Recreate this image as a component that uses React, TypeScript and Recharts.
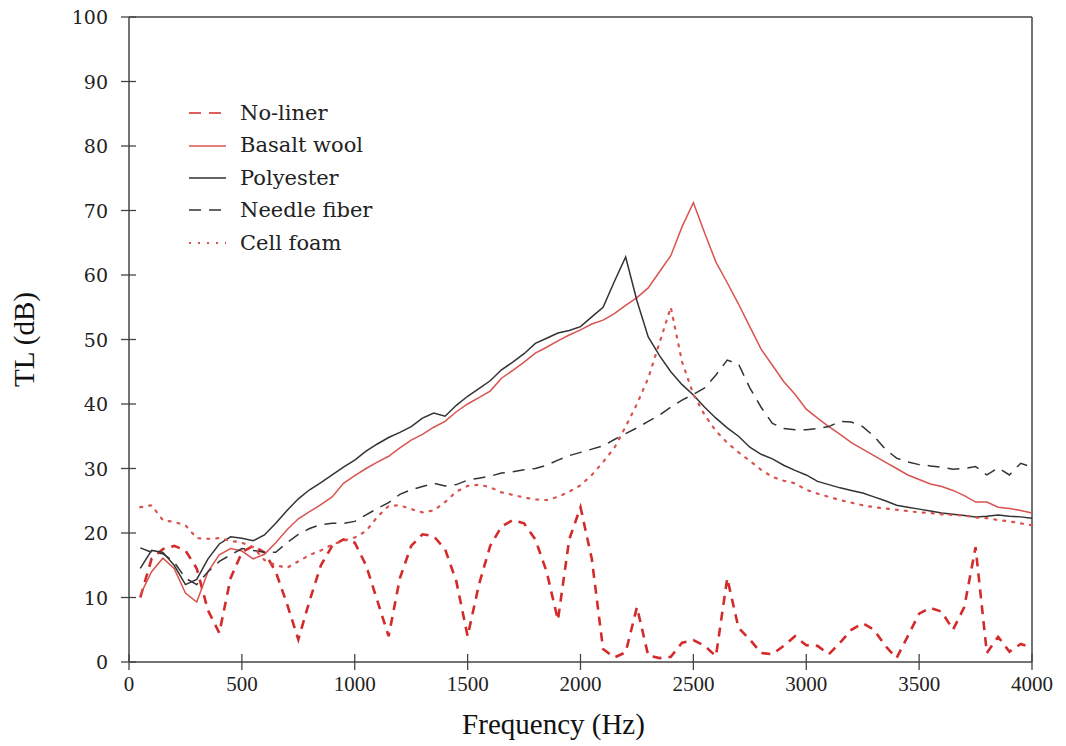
import React from 'react'
import { LineChart, Line, XAxis, YAxis, ReferenceLine, Label } from 'recharts'

const freqs = Array.from({ length: 80 }, (_, i) => (i + 1) * 50)

const noLiner = [
  10, 16, 17.5, 18, 17.3, 14.5, 8, 4.5, 13, 17,
  18, 17, 14, 9, 3.5, 9.5, 15, 18, 19, 18.5,
  15, 9.5, 4, 13, 18, 19.8, 19.5, 17.5, 12.5, 4,
  12, 18, 21, 22, 21.5, 19, 14, 6.5, 19, 24,
  16, 2, 0.7, 1.5, 8.5, 1, 0.6, 0.8, 3, 3.4,
  2.5, 0.9, 13, 5.3, 3.5, 1.4, 1.2, 2.5, 4, 2.6,
  2.5, 1.2, 3, 5, 6, 5, 2.5, 0.6, 4, 7.5,
  8.4, 7.8, 5, 8.5, 17.8, 1.4, 3.9, 1.6, 2.8, 2.2,
]

const basaltWool = [
  10.4, 14, 16.1, 14.5, 10.7, 9.3, 14, 16.6, 17.6, 17.2,
  16, 16.7, 18.5, 20.5, 22.2, 23.3, 24.4, 25.6, 27.7, 28.9,
  30, 31, 31.9, 33.2, 34.4, 35.3, 36.4, 37.3, 38.8, 40,
  41, 42, 44, 45.2, 46.5, 47.9, 48.8, 49.8, 50.7, 51.5,
  52.4, 53, 54, 55.3, 56.5, 58, 60.5, 63, 67.5, 71.2,
  66.5, 62, 58.8, 55.5, 52, 48.5, 46, 43.5, 41.5, 39.2,
  37.8, 36.5, 35.3, 34, 33, 32, 31, 30, 29, 28.3,
  27.6, 27.2, 26.6, 25.8, 24.8, 24.8, 24, 23.8, 23.5, 23.1,
]

const polyester = [
  14.5, 17.3, 17, 15, 12, 12.8, 16, 18.3, 19.4, 19.2,
  18.8, 19.7, 21.5, 23.5, 25.3, 26.7, 27.8, 29, 30.2, 31.3,
  32.7, 33.8, 34.8, 35.6, 36.5, 37.8, 38.6, 38.1, 39.8, 41.2,
  42.4, 43.6, 45.3, 46.5, 47.8, 49.4, 50.2, 51, 51.4, 52,
  53.5, 55, 59, 62.8, 56, 50.4, 47.5, 45, 43, 41.4,
  39.5, 37.8, 36.3, 35, 33.3, 32.2, 31.5, 30.5, 29.7, 29,
  28, 27.5, 27, 26.6, 26.2, 25.6, 25, 24.3, 24, 23.7,
  23.4, 23.1, 22.9, 22.7, 22.5, 22.6, 22.8, 22.6, 22.5, 22.3,
]

const needleFiber = [
  17.7, 17, 16.8, 15.5, 13, 12, 14, 15.6, 16.6, 17.6,
  17.3, 17, 17, 18.5, 19.8, 20.7, 21.3, 21.5, 21.5, 21.8,
  22.8, 23.8, 24.7, 26, 26.7, 27.2, 27.7, 27.3, 27.5, 28.2,
  28.5, 28.8, 29.3, 29.5, 29.8, 30, 30.5, 31.3, 32, 32.5,
  33, 33.5, 34.5, 35.4, 36.3, 37.3, 38.3, 39.5, 40.6, 41.5,
  42.5, 44.5, 46.8, 46.2, 42.5, 39.5, 37, 36.2, 36, 36,
  36.2, 36.5, 37.3, 37.2, 36.5, 35, 33, 31.6, 31, 30.6,
  30.4, 30.2, 29.9, 30, 30.3, 29, 30.1, 29, 30.8, 30.2,
]

const cellFoam = [
  24, 24.3, 22, 21.7, 21.2, 19.2, 19.1, 19.2, 18.8, 18.5,
  17.8, 15.8, 15, 14.6, 15.6, 16.6, 17.3, 18.2, 18.8, 19.3,
  20.3, 22.5, 24.2, 24.3, 23.7, 23.2, 23.5, 24.8, 26.4, 27.3,
  27.5, 27.1, 26.3, 25.9, 25.5, 25.2, 25.1, 25.6, 26.4, 27.4,
  29, 31, 33.2, 36.5, 40, 44, 49.5, 55, 46.5, 41.5,
  38.3, 35.8, 34, 32.5, 31.2, 29.8, 28.7, 28.1, 27.7, 26.7,
  26.1, 25.6, 25.1, 24.7, 24.3, 24, 23.8, 23.6, 23.4, 23.2,
  23.1, 22.9, 22.8, 22.7, 22.4, 22.3, 22, 21.8, 21.5, 21.2,
]

const xTicks = [0, 500, 1000, 1500, 2000, 2500, 3000, 3500, 4000]
const yTicks = [0, 10, 20, 30, 40, 50, 60, 70, 80, 90, 100]

const data = freqs.map((f, i) => ({
  f,
  noLiner: noLiner[i],
  basalt: basaltWool[i],
  polyester: polyester[i],
  needle: needleFiber[i],
  cell: cellFoam[i],
}))

const RED = '#d42a2a'
const SOFT_RED = '#d9534f'
const DARK = '#333333'
const AXIS = '#444444'
const SERIF_CM = "'DejaVu Serif', serif"
const SERIF_TIMES = "'Liberation Serif', 'Times New Roman', serif"

const series = [
  { key: 'noLiner', name: 'No-liner', color: RED, width: 2.6, dash: '9 7' },
  { key: 'basalt', name: 'Basalt wool', color: SOFT_RED, width: 1.5, dash: undefined },
  { key: 'polyester', name: 'Polyester', color: DARK, width: 1.5, dash: undefined },
  { key: 'needle', name: 'Needle fiber', color: DARK, width: 1.5, dash: '12 8' },
  { key: 'cell', name: 'Cell foam', color: SOFT_RED, width: 2.2, dash: '2 7' },
]

const YTick = (props: any) => {
  const { x, y, payload } = props
  return (
    <g>
      <line x1={x - 8} x2={x + 7} y1={y} y2={y} stroke={AXIS} strokeWidth={1.3} />
      <text x={x - 21} y={y} textAnchor="end" dominantBaseline="central"
        style={{ fontFamily: SERIF_CM, fontSize: 19, fill: '#222' }}>
        {payload.value}
      </text>
    </g>
  )
}

const XTick = (props: any) => {
  const { x, y, payload } = props
  return (
    <g>
      <line x1={x} x2={x} y1={y - 8} y2={y + 8} stroke={AXIS} strokeWidth={1.3} />
      <text x={x} y={y + 29} textAnchor="middle"
        style={{ fontFamily: SERIF_TIMES, fontSize: 21, fill: '#222' }}>
        {payload.value}
      </text>
    </g>
  )
}

const LegendBox = () => (
  <div style={{
    position: 'absolute', left: 186, top: 97, fontFamily: SERIF_CM, fontSize: 21,
    color: '#222', lineHeight: '32.4px',
  }}>
    {series.map((s) => (
      <div key={s.key} style={{ display: 'flex', alignItems: 'center' }}>
        <svg width={54} height={12}>
          <line x1={3} x2={40} y1={6} y2={6} stroke={s.color}
            strokeWidth={s.key === 'cell' ? 2 : 1.3}
            strokeDasharray={s.key === 'noLiner' || s.key === 'needle' ? '12 8' : s.dash} />
        </svg>
        <span>{s.name}</span>
      </div>
    ))}
  </div>
)

export default function App() {
  return (
    <div style={{ position: 'absolute', left: 0, top: 0, width: 1066, height: 746, background: '#fff' }}>
      <LineChart width={1066} height={746} data={data}
        margin={{ top: 17, right: 34, bottom: 0, left: 0 }}>
        <XAxis dataKey="f" type="number" domain={[0, 4000]} ticks={xTicks}
          height={84} tickSize={0} tickMargin={0} tick={<XTick />}
          stroke={AXIS} strokeWidth={1.5} interval={0}>
          <Label value="Frequency (Hz)" position="insideBottom" offset={12} dx={-27}
            style={{ fontFamily: SERIF_TIMES, fontSize: 29, fill: '#111' }} />
        </XAxis>
        <YAxis type="number" domain={[0, 100]} ticks={yTicks} width={129}
          tickSize={0} tickMargin={0} tick={<YTick />} stroke={AXIS} strokeWidth={1.5} interval={0}>
          <Label value="TL (dB)" angle={-90} position="insideLeft" offset={24}
            style={{ fontFamily: SERIF_TIMES, fontSize: 29, fill: '#111', textAnchor: 'middle' }} />
        </YAxis>
        <ReferenceLine y={100} stroke={AXIS} strokeWidth={1.5} />
        <ReferenceLine x={4000} stroke={AXIS} strokeWidth={1.5} />
        {series.map((s) => (
          <Line key={s.key} type="linear" dataKey={s.key} name={s.name} stroke={s.color}
            strokeWidth={s.width} strokeDasharray={s.dash} dot={false}
            strokeLinecap={s.key === 'cell' ? 'round' : 'butt'}
            isAnimationActive={false} />
        ))}
      </LineChart>
      <LegendBox />
    </div>
  )
}
